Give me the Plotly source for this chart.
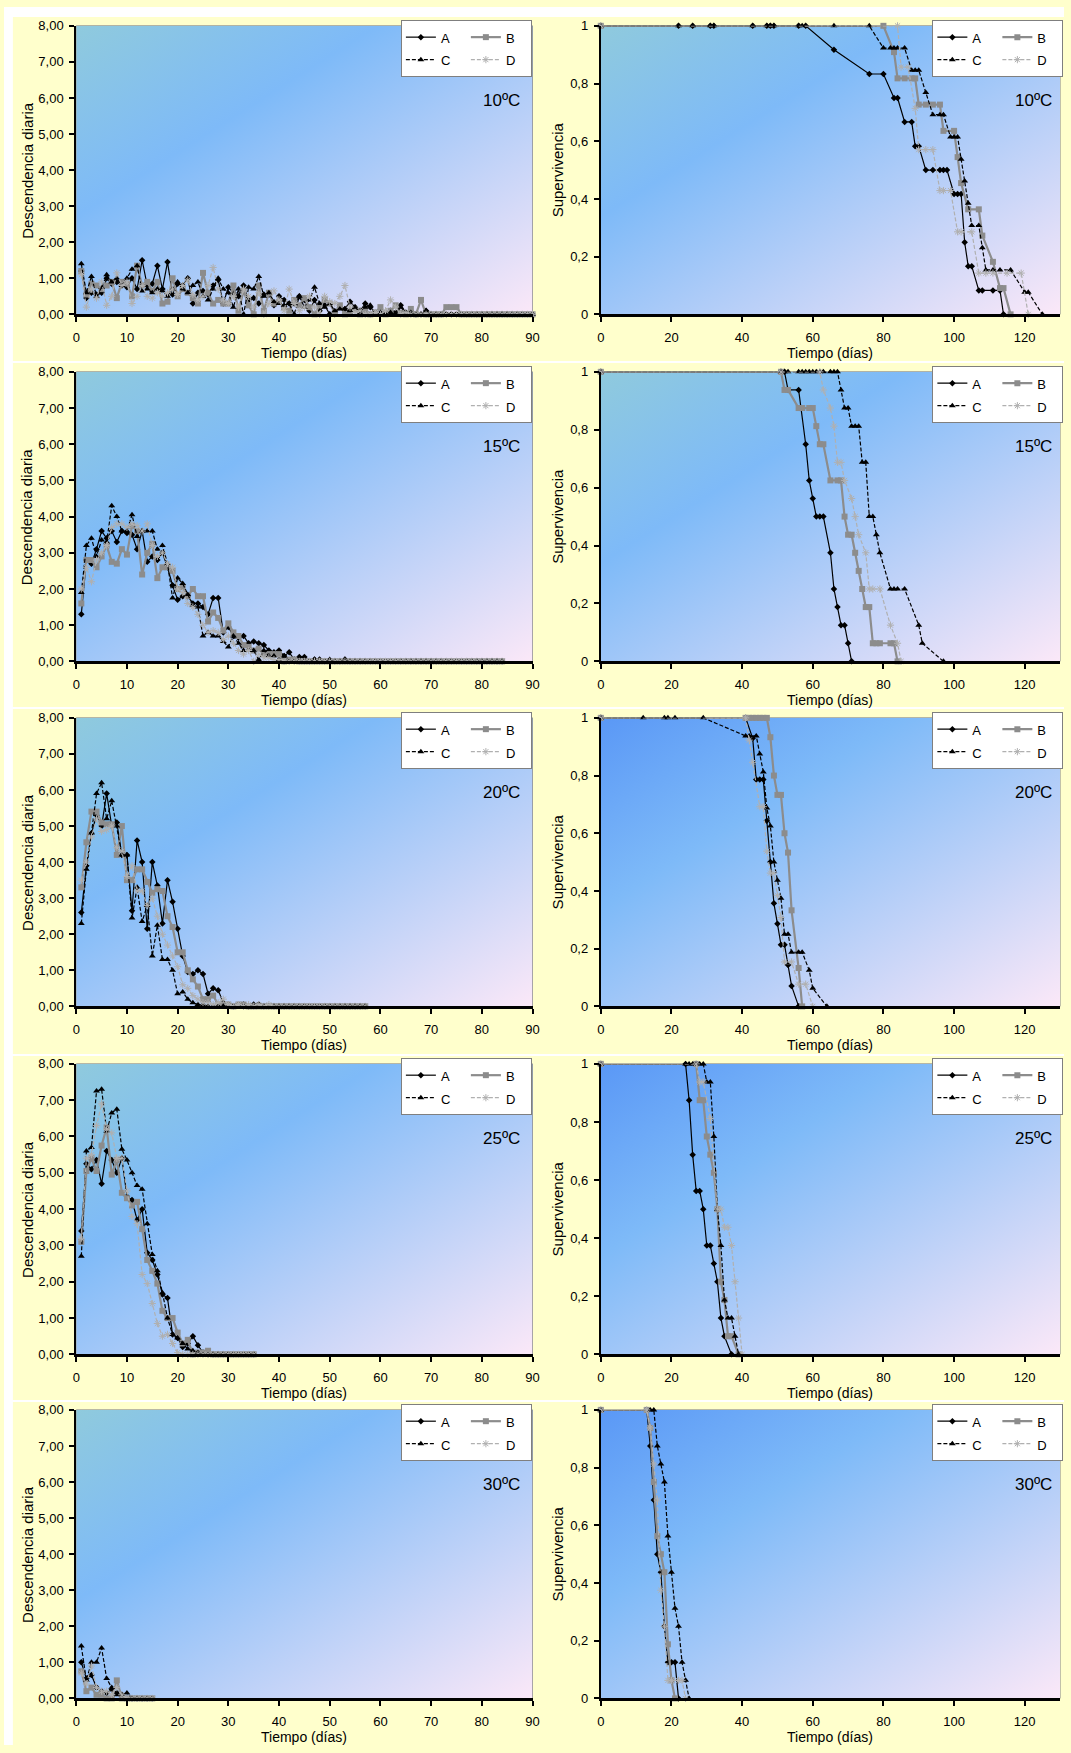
import base64
import plotly.graph_objects as go

W, H = 1071, 1753
FONT = "Liberation Sans, Arial, sans-serif"

TEMPERATURAS = ["10ºC", "15ºC", "20ºC", "25ºC", "30ºC"]
SERIES = ["A", "B", "C", "D"]

# ---------------- Descendencia diaria (day 1..n) ----------------
DESC_10_A = [1.20, 0.45, 0.60, 0.55, 0.60, 1.00, 0.85, 0.90, 0.80, 0.75,
             1.00, 0.70, 1.50, 0.80, 0.85, 1.35, 0.70, 1.45, 0.55, 0.85,
             0.80, 1.00, 0.30, 0.60, 0.65, 0.55, 0.80, 0.95, 0.30, 0.75,
             0.60, 0.50, 0.80, 0.40, 0.45, 0.30, 0.55, 0.55, 0.25, 0.50,
             0.40, 0.30, 0.30, 0.50, 0.40, 0.10, 0.40, 0.10, 0.25, 0.00,
             0.00, 0.20, 0.15, 0.35, 0.20, 0.10, 0.30, 0.20, 0.05, 0.00,
             0.05, 0.10, 0.05, 0.25, 0.05, 0.10, 0.00, 0.00, 0.10, 0.00,
             0, 0, 0, 0, 0, 0, 0, 0, 0, 0,
             0, 0, 0, 0, 0, 0, 0, 0, 0, 0]
DESC_10_B = [1.20, 0.55, 0.85, 0.80, 0.70, 0.80, 0.90, 0.45, 0.90, 0.85,
             0.50, 1.35, 0.80, 0.90, 0.65, 0.90, 0.30, 0.35, 1.00, 0.50,
             0.70, 0.60, 0.45, 0.30, 1.15, 0.60, 0.30, 0.40, 0.30, 0.30,
             0.80, 0.10, 0.65, 0.25, 0.00, 0.80, 0.10, 0.60, 0.30, 0.35,
             0.20, 0.10, 0.40, 0.25, 0.45, 0.20, 0.00, 0.25, 0.40, 0.30,
             0.05, 0.25, 0.00, 0.05, 0.15, 0.00, 0.10, 0.00, 0.05, 0.20,
             0.00, 0.10, 0.25, 0.05, 0.00, 0.15, 0.00, 0.40, 0.00, 0.00,
             0.00, 0.00, 0.20, 0.20, 0.20, 0, 0, 0, 0, 0,
             0, 0, 0, 0, 0, 0, 0, 0, 0, 0]
DESC_10_C = [1.40, 0.60, 1.05, 0.50, 0.75, 1.10, 0.90, 1.00, 0.80, 1.00,
             1.25, 1.35, 0.65, 0.70, 0.60, 0.70, 0.65, 0.50, 0.70, 0.90,
             0.70, 0.60, 0.80, 0.90, 0.50, 0.40, 0.70, 1.00, 0.70, 0.60,
             0.20, 0.70, 0.00, 0.75, 0.70, 1.05, 0.50, 0.60, 0.35, 0.30,
             0.25, 0.30, 0.00, 0.50, 0.20, 0.40, 0.75, 0.30, 0.20, 0.30,
             0.10, 0.15, 0.15, 0.10, 0.20, 0.05, 0.20, 0.25, 0.00, 0.05,
             0.00, 0.05, 0.00, 0.20, 0.05, 0.05, 0.00, 0.00, 0.10, 0.00,
             0, 0, 0, 0, 0, 0, 0, 0, 0, 0,
             0, 0, 0, 0, 0, 0, 0, 0, 0, 0]
DESC_10_D = [1.10, 0.20, 0.70, 0.45, 0.90, 0.25, 0.50, 1.15, 0.80, 0.90,
             0.30, 0.50, 0.80, 0.50, 0.45, 0.60, 0.50, 0.60, 0.70, 0.55,
             0.80, 0.95, 0.55, 0.40, 0.50, 0.80, 1.30, 0.70, 0.40, 0.30,
             0.50, 0.20, 0.70, 0.50, 0.20, 0.60, 0.00, 0.30, 0.65, 0.40,
             0.10, 0.70, 0.30, 0.10, 0.20, 0.50, 0.20, 0.00, 0.50, 0.35,
             0.30, 0.50, 0.80, 0.20, 0.05, 0.10, 0.00, 0.00, 0.05, 0.00,
             0.10, 0.40, 0.20, 0.00, 0.05, 0.00, 0.00, 0.00, 0.00, 0.00,
             0, 0, 0, 0, 0, 0, 0, 0, 0, 0,
             0, 0, 0, 0, 0, 0, 0, 0, 0, 0]

DESC_15_A = [1.30, 2.80, 2.70, 3.10, 3.60, 3.40, 3.60, 3.30, 3.60, 3.55,
             3.50, 3.10, 3.60, 2.75, 2.90, 2.80, 3.00, 2.60, 2.10, 1.70,
             1.80, 1.80, 1.60, 1.60, 1.50, 1.30, 1.75, 1.75, 0.80, 0.95,
             0.70, 0.65, 0.70, 0.50, 0.55, 0.50, 0.45, 0.30, 0.25, 0.30,
             0.15, 0.25, 0.05, 0.12, 0.12, 0.00, 0.05, 0.05, 0.00, 0.00,
             0.00, 0.00, 0.05, 0.00, 0, 0, 0, 0, 0, 0,
             0, 0, 0, 0, 0, 0, 0, 0, 0, 0,
             0, 0, 0, 0, 0, 0, 0, 0, 0, 0,
             0, 0, 0, 0]
DESC_15_B = [1.60, 2.80, 2.80, 2.60, 2.90, 3.20, 2.75, 2.70, 3.10, 2.95,
             3.75, 3.60, 2.40, 3.00, 3.25, 2.30, 2.60, 2.60, 2.50, 2.00,
             2.05, 1.80, 2.00, 1.80, 1.80, 1.10, 1.35, 1.20, 0.85, 1.05,
             0.80, 0.70, 0.45, 0.40, 0.30, 0.35, 0.20, 0.20, 0.20, 0.20,
             0.00, 0.05, 0.05, 0.00, 0, 0, 0, 0, 0, 0,
             0, 0, 0, 0, 0, 0, 0, 0, 0, 0,
             0, 0, 0, 0, 0, 0, 0, 0, 0, 0,
             0, 0, 0, 0, 0, 0, 0, 0, 0, 0,
             0, 0, 0, 0]
DESC_15_C = [1.90, 3.20, 3.40, 2.90, 3.35, 3.30, 4.30, 4.00, 3.60, 3.60,
             4.05, 3.45, 3.60, 3.60, 3.60, 3.10, 3.20, 2.70, 1.75, 2.30,
             2.15, 1.85, 1.55, 1.50, 0.70, 0.80, 0.70, 0.70, 0.55, 0.40,
             0.70, 0.50, 0.30, 0.30, 0.30, 0.05, 0.30, 0.15, 0.15, 0.05,
             0.15, 0.00, 0.00, 0.00, 0.00, 0.00, 0.05, 0.00, 0.00, 0.05,
             0.00, 0.00, 0.05, 0.00, 0, 0, 0, 0, 0, 0,
             0, 0, 0, 0, 0, 0, 0, 0, 0, 0,
             0, 0, 0, 0, 0, 0, 0, 0, 0, 0,
             0, 0, 0, 0]
DESC_15_D = [2.00, 2.60, 2.20, 2.80, 3.00, 3.20, 3.70, 3.80, 3.80, 3.70,
             3.80, 3.75, 3.60, 3.80, 3.20, 2.90, 3.00, 2.70, 2.60, 2.00,
             1.90, 1.60, 1.50, 1.30, 1.00, 0.80, 0.85, 0.80, 0.60, 0.70,
             0.50, 0.30, 0.20, 0.30, 0.00, 0.20, 0.10, 0.10, 0.05, 0.05,
             0, 0, 0, 0, 0, 0, 0, 0, 0, 0,
             0, 0, 0, 0, 0, 0, 0, 0, 0, 0,
             0, 0, 0, 0, 0, 0, 0, 0, 0, 0,
             0, 0, 0, 0, 0, 0, 0, 0, 0, 0,
             0, 0, 0, 0]

DESC_20_A = [2.60, 3.90, 4.80, 5.30, 5.00, 5.90, 5.00, 5.10, 4.20, 4.20,
             2.65, 4.60, 4.00, 2.15, 4.00, 3.35, 2.30, 3.50, 2.90, 2.15,
             1.40, 0.95, 0.90, 1.00, 0.90, 0.35, 0.50, 0.45, 0.10, 0.05,
             0.00, 0.05, 0.05, 0.00, 0.05, 0.05, 0.00, 0, 0, 0,
             0, 0, 0, 0, 0, 0, 0, 0, 0, 0,
             0, 0, 0, 0, 0, 0, 0]
DESC_20_B = [3.30, 4.55, 5.40, 5.40, 5.10, 5.05, 5.05, 4.20, 5.00, 3.50,
             3.50, 3.80, 3.80, 3.45, 3.15, 3.25, 3.20, 2.50, 2.20, 1.50,
             1.50, 1.00, 0.75, 0.55, 0.20, 0.20, 0.30, 0.05, 0.05, 0.05,
             0.00, 0.05, 0.05, 0.00, 0, 0, 0, 0, 0, 0,
             0, 0, 0, 0, 0, 0, 0, 0, 0, 0,
             0, 0, 0, 0, 0, 0, 0]
DESC_20_C = [2.30, 3.80, 4.80, 5.90, 6.20, 5.20, 5.70, 5.00, 4.20, 4.20,
             2.45, 3.30, 2.35, 2.80, 1.40, 2.25, 1.30, 1.30, 1.00, 0.35,
             0.40, 0.20, 0.10, 0.05, 0.05, 0.00, 0, 0, 0, 0,
             0, 0, 0, 0, 0, 0, 0, 0, 0, 0,
             0, 0, 0, 0, 0, 0, 0, 0, 0, 0,
             0, 0, 0, 0, 0, 0, 0]
DESC_20_D = [3.50, 4.00, 4.70, 5.20, 4.85, 4.90, 5.00, 4.40, 4.30, 3.60,
             3.90, 3.20, 3.20, 2.80, 3.00, 2.50, 2.00, 1.70, 1.40, 1.10,
             0.60, 0.50, 0.30, 0.20, 0.10, 0.10, 0.05, 0.10, 0.20, 0.05,
             0.00, 0.05, 0.00, 0.05, 0.00, 0.05, 0.00, 0.05, 0, 0,
             0, 0, 0, 0, 0, 0, 0, 0, 0, 0,
             0, 0, 0, 0, 0, 0, 0]

DESC_25_A = [3.40, 5.25, 5.10, 5.35, 4.70, 5.60, 5.35, 5.00, 5.40, 4.35,
             4.25, 3.70, 4.00, 2.80, 2.60, 2.20, 1.65, 1.55, 0.55, 0.45,
             0.20, 0.30, 0.50, 0.25, 0.05, 0.00, 0, 0, 0, 0,
             0, 0, 0, 0, 0]
DESC_25_B = [3.10, 5.05, 5.40, 5.05, 5.75, 6.25, 4.95, 5.35, 4.45, 4.30,
             4.10, 4.20, 3.45, 2.60, 2.30, 1.95, 1.20, 1.00, 1.00, 0.60,
             0.30, 0.40, 0.00, 0.05, 0.05, 0.10, 0, 0, 0, 0,
             0, 0, 0, 0, 0]
DESC_25_C = [2.70, 5.60, 5.70, 7.25, 7.30, 6.15, 6.65, 6.75, 5.65, 5.35,
             5.00, 4.65, 4.55, 3.60, 2.75, 2.30, 1.70, 1.00, 0.55, 0.45,
             0.30, 0.15, 0.10, 0.05, 0.00, 0, 0, 0, 0, 0,
             0, 0, 0, 0, 0]
DESC_25_D = [3.20, 5.40, 5.50, 6.30, 6.90, 6.20, 6.10, 5.40, 5.40, 4.50,
             3.80, 3.60, 2.20, 1.95, 1.40, 0.85, 0.50, 0.55, 0.30, 0.05,
             0.00, 0, 0, 0, 0, 0, 0, 0, 0, 0,
             0, 0, 0, 0, 0]

DESC_30_A = [1.00, 0.55, 0.65, 0.30, 0.20, 0.15, 0.25, 0.15, 0.10, 0.00, 0, 0, 0, 0, 0]
DESC_30_B = [0.75, 0.20, 0.30, 0.10, 0.10, 0.00, 0.00, 0.50, 0.00, 0.00, 0, 0, 0, 0, 0]
DESC_30_C = [1.45, 0.50, 1.00, 1.00, 1.40, 0.55, 0.30, 0.10, 0.10, 0.15, 0, 0, 0, 0, 0]
DESC_30_D = [0.70, 0.40, 0.90, 0.30, 0.20, 0.20, 0.10, 0.30, 0.10, 0.00, 0, 0, 0, 0, 0]

# ---------------- Supervivencia (day, survival) ----------------
SUP_10_A_X = [0, 22, 26, 31, 32, 43, 47, 48, 49, 56, 58, 66, 76, 80, 83, 84, 86, 88, 89, 90,
              92, 94, 96, 97, 98, 100, 101, 102, 103, 104, 105, 107, 108, 111, 113, 114]
SUP_10_A_Y = [1, 1, 1, 1, 1, 1, 1, 1, 1, 1, 1, 0.917, 0.833, 0.833, 0.75, 0.75, 0.667, 0.667, 0.583, 0.583,
              0.5, 0.5, 0.5, 0.5, 0.5, 0.417, 0.417, 0.417, 0.25, 0.167, 0.167, 0.083, 0.083, 0.083, 0.083, 0]
SUP_10_B_X = [0, 80, 83, 84, 86, 88, 89, 90, 92, 94, 96, 97, 100, 101, 102, 104, 107, 108, 111, 113, 114, 116]
SUP_10_B_Y = [1, 1, 0.909, 0.818, 0.818, 0.818, 0.818, 0.727, 0.727, 0.727, 0.727, 0.636, 0.636, 0.545,
              0.455, 0.364, 0.364, 0.273, 0.182, 0.091, 0.091, 0]
SUP_10_C_X = [0, 22, 26, 31, 32, 43, 47, 48, 49, 56, 57, 66, 76, 80, 82, 83, 84, 86, 88, 89, 90, 92,
              94, 96, 97, 99, 100, 101, 102, 103, 104, 105, 107, 108, 109, 111, 113, 116, 120, 121, 125]
SUP_10_C_Y = [1, 1, 1, 1, 1, 1, 1, 1, 1, 1, 1, 1, 1, 0.923, 0.923, 0.923, 0.923, 0.923, 0.846, 0.846, 0.846,
              0.769, 0.692, 0.692, 0.692, 0.615, 0.615, 0.615, 0.538, 0.462, 0.385, 0.308, 0.308, 0.231,
              0.154, 0.154, 0.154, 0.154, 0.077, 0.077, 0]
SUP_10_D_X = [0, 84, 85, 87, 89, 90, 92, 94, 96, 97, 99, 101, 102, 105, 107, 109, 111, 115, 119, 121]
SUP_10_D_Y = [1, 1, 0.857, 0.857, 0.714, 0.571, 0.571, 0.571, 0.429, 0.429, 0.429, 0.286, 0.286, 0.286,
              0.143, 0.143, 0.143, 0.143, 0.143, 0]

SUP_15_A_X = [0, 51, 52, 53, 56, 58, 59, 60, 61, 62, 63, 65, 66, 67, 68, 69, 70, 71]
SUP_15_A_Y = [1, 1, 1, 0.9375, 0.9375, 0.75, 0.625, 0.5625, 0.5, 0.5, 0.5, 0.375, 0.25, 0.1875, 0.125,
              0.125, 0.0625, 0]
SUP_15_B_X = [0, 51, 52, 53, 56, 57, 59, 60, 61, 62, 63, 65, 67, 68, 69, 70, 71, 72, 73, 74, 75, 76,
              77, 78, 79, 82, 83, 84]
SUP_15_B_Y = [1, 1, 0.9375, 0.9375, 0.875, 0.875, 0.875, 0.875, 0.8125, 0.75, 0.75, 0.625, 0.625, 0.625,
              0.5, 0.4375, 0.4375, 0.375, 0.3125, 0.25, 0.1875, 0.1875, 0.0625, 0.0625, 0.0625, 0.0625,
              0.0625, 0]
SUP_15_C_X = [0, 51, 52, 53, 56, 57, 58, 59, 60, 61, 62, 63, 65, 66, 67, 68, 69, 70, 71, 72, 73, 74,
              75, 76, 77, 78, 79, 82, 83, 84, 86, 90, 91, 97]
SUP_15_C_Y = [1, 1, 1, 1, 1, 1, 1, 1, 1, 1, 1, 1, 1, 1, 1, 0.9375, 0.875, 0.875, 0.8125, 0.8125, 0.8125,
              0.6875, 0.6875, 0.5, 0.5, 0.4375, 0.375, 0.25, 0.25, 0.25, 0.25, 0.125, 0.0625, 0]
SUP_15_D_X = [0, 51, 62, 63, 65, 66, 67, 68, 69, 71, 72, 73, 75, 76, 77, 79, 82, 84, 85]
SUP_15_D_Y = [1, 1, 1, 0.9375, 0.875, 0.8125, 0.6875, 0.6875, 0.625, 0.5625, 0.5, 0.4375, 0.375, 0.25,
              0.25, 0.25, 0.125, 0.0625, 0]

SUP_20_A_X = [0, 41, 43, 44, 45, 46, 47, 48, 49, 50, 51, 52, 53, 54, 56]
SUP_20_A_Y = [1, 1, 0.929, 0.786, 0.786, 0.786, 0.643, 0.5, 0.357, 0.286, 0.214, 0.214, 0.143, 0.071, 0]
SUP_20_B_X = [0, 41, 42, 43, 44, 45, 46, 47, 48, 49, 50, 51, 52, 53, 54, 56, 57]
SUP_20_B_Y = [1, 1, 1, 1, 1, 1, 1, 1, 0.933, 0.8, 0.733, 0.733, 0.6, 0.533, 0.333, 0.133, 0]
SUP_20_C_X = [0, 12, 18, 19, 21, 29, 41, 42, 44, 45, 46, 47, 48, 49, 50, 51, 52, 53, 54, 56, 57, 59, 60, 64]
SUP_20_C_Y = [1, 1, 1, 1, 1, 1, 0.9375, 0.9375, 0.9375, 0.875, 0.8125, 0.6875, 0.625, 0.5, 0.4375, 0.375,
              0.25, 0.25, 0.1875, 0.1875, 0.1875, 0.125, 0.0625, 0]
SUP_20_D_X = [0, 41, 42, 43, 45, 46, 47, 48, 49, 50, 51, 52, 54, 56, 58, 60]
SUP_20_D_Y = [1, 1, 0.923, 0.846, 0.692, 0.692, 0.538, 0.462, 0.462, 0.385, 0.308, 0.154, 0.154, 0.077,
              0.077, 0]

SUP_25_A_X = [0, 24, 25, 26, 27, 28, 29, 30, 31, 32, 33, 34, 35, 37]
SUP_25_A_Y = [1, 1, 0.875, 0.6875, 0.5625, 0.5625, 0.5, 0.375, 0.375, 0.3125, 0.25, 0.125, 0.0625, 0]
SUP_25_B_X = [0, 27, 28, 29, 30, 31, 32, 33, 34, 35, 36, 37, 39]
SUP_25_B_Y = [1, 1, 0.875, 0.875, 0.75, 0.6875, 0.625, 0.5, 0.25, 0.1875, 0.0625, 0.0625, 0]
SUP_25_C_X = [0, 24, 25, 26, 27, 28, 29, 30, 31, 32, 33, 34, 35, 36, 37, 38, 39]
SUP_25_C_Y = [1, 1, 1, 1, 1, 1, 1, 0.9375, 0.9375, 0.75, 0.5, 0.375, 0.1875, 0.125, 0.125, 0.0625, 0]
SUP_25_D_X = [0, 27, 28, 29, 31, 33, 34, 35, 36, 37, 38, 39, 40]
SUP_25_D_Y = [1, 1, 0.9375, 0.9375, 0.8125, 0.5, 0.5, 0.4375, 0.4375, 0.375, 0.25, 0.125, 0]

SUP_30_A_X = [0, 13, 14, 15, 16, 17, 18, 19, 20, 21, 22]
SUP_30_A_Y = [1, 1, 0.875, 0.6875, 0.5, 0.4375, 0.25, 0.125, 0.125, 0.125, 0]
SUP_30_B_X = [0, 13, 14, 15, 16, 17, 18, 19, 20, 21]
SUP_30_B_Y = [1, 1, 0.9375, 0.75, 0.5625, 0.5, 0.4375, 0.1875, 0.0625, 0]
SUP_30_C_X = [0, 14, 15, 16, 17, 18, 19, 20, 21, 22, 23, 24, 25]
SUP_30_C_Y = [1, 1, 1, 0.875, 0.8125, 0.75, 0.5625, 0.4375, 0.3125, 0.25, 0.125, 0.0625, 0]
SUP_30_D_X = [0, 13, 14, 15, 16, 17, 18, 19, 20, 22, 23, 24]
SUP_30_D_Y = [1, 1, 0.9375, 0.8125, 0.6875, 0.375, 0.25, 0.0625, 0.0625, 0.0625, 0.0625, 0]

DESC = {
    "10ºC": {"A": DESC_10_A, "B": DESC_10_B, "C": DESC_10_C, "D": DESC_10_D},
    "15ºC": {"A": DESC_15_A, "B": DESC_15_B, "C": DESC_15_C, "D": DESC_15_D},
    "20ºC": {"A": DESC_20_A, "B": DESC_20_B, "C": DESC_20_C, "D": DESC_20_D},
    "25ºC": {"A": DESC_25_A, "B": DESC_25_B, "C": DESC_25_C, "D": DESC_25_D},
    "30ºC": {"A": DESC_30_A, "B": DESC_30_B, "C": DESC_30_C, "D": DESC_30_D},
}
SUPV = {
    "10ºC": {"A": (SUP_10_A_X, SUP_10_A_Y), "B": (SUP_10_B_X, SUP_10_B_Y),
             "C": (SUP_10_C_X, SUP_10_C_Y), "D": (SUP_10_D_X, SUP_10_D_Y)},
    "15ºC": {"A": (SUP_15_A_X, SUP_15_A_Y), "B": (SUP_15_B_X, SUP_15_B_Y),
             "C": (SUP_15_C_X, SUP_15_C_Y), "D": (SUP_15_D_X, SUP_15_D_Y)},
    "20ºC": {"A": (SUP_20_A_X, SUP_20_A_Y), "B": (SUP_20_B_X, SUP_20_B_Y),
             "C": (SUP_20_C_X, SUP_20_C_Y), "D": (SUP_20_D_X, SUP_20_D_Y)},
    "25ºC": {"A": (SUP_25_A_X, SUP_25_A_Y), "B": (SUP_25_B_X, SUP_25_B_Y),
             "C": (SUP_25_C_X, SUP_25_C_Y), "D": (SUP_25_D_X, SUP_25_D_Y)},
    "30ºC": {"A": (SUP_30_A_X, SUP_30_A_Y), "B": (SUP_30_B_X, SUP_30_B_Y),
             "C": (SUP_30_C_X, SUP_30_C_Y), "D": (SUP_30_D_X, SUP_30_D_Y)},
}

# ---------------- styles ----------------
STYLE = {
    "A": dict(line=dict(color="#000000", width=1.2),
              marker=dict(symbol="diamond", size=5, color="#000000")),
    "B": dict(line=dict(color="#8C8C8C", width=2.2),
              marker=dict(symbol="square", size=6, color="#8C8C8C")),
    "C": dict(line=dict(color="#000000", width=1.2, dash="4px,2px"),
              marker=dict(symbol="triangle-up", size=6, color="#000000")),
    "D": dict(line=dict(color="#B0B0B0", width=1.2, dash="4px,2px"),
              marker=dict(symbol="asterisk-open", size=6, color="#B0B0B0",
                          line=dict(width=1, color="#B0B0B0"))),
}
GROUP = {"A": "g1", "C": "g1", "B": "g2", "D": "g2"}

ROW_TOP = [19, 368, 717, 1066, 1415]
ROW_BOT = [310, 660, 1008, 1359, 1706]
COL_X = [(73, 534), (603, 1067)]
LEG_LEFT = [401, 938]
TEMP_RIGHT = [523, 1061]
YTITLE_X = [23, 559]


def px(v):
    return v / W


def py(v):
    return 1 - v / H


def grad_uri(c0, c1, c2):
    svg = ('<svg xmlns="http://www.w3.org/2000/svg" width="200" height="200" viewBox="0 0 200 200" '
           'preserveAspectRatio="none"><defs><linearGradient id="g" x1="0" y1="0" x2="1" y2="1">'
           f'<stop offset="0" stop-color="{c0}"/><stop offset="0.33" stop-color="{c1}"/>'
           f'<stop offset="1" stop-color="{c2}"/></linearGradient></defs>'
           '<rect width="200" height="200" fill="url(#g)"/></svg>')
    return "data:image/svg+xml;base64," + base64.b64encode(svg.encode()).decode()


GRAD_TEAL = grad_uri("#8FCADD", "#7EBAF8", "#FBE8F8")
GRAD_BLUE = grad_uri("#5A98F6", "#7EBAF8", "#FBE8F8")

fig = go.Figure()
layout = dict(margin=dict(l=0, r=0, t=0, b=0, pad=0),
              paper_bgcolor="#FFFFCC", plot_bgcolor="rgba(0,0,0,0)",
              font=dict(family=FONT, size=13, color="#000000"),
              separators=",.", hovermode="closest")
images, shapes, annotations = [], [], []

for r, temp in enumerate(TEMPERATURAS):
    for c in range(2):
        k = r * 2 + c + 1
        sfx = "" if k == 1 else str(k)
        xref, yref = "x" + sfx, "y" + sfx
        legname = "legend" + sfx
        x0, x1 = COL_X[c]
        top, bot = ROW_TOP[r], ROW_BOT[r]

        for s in SERIES:
            if c == 0:
                yv = DESC[temp][s]
                xv = list(range(1, len(yv) + 1))
            else:
                xv, yv = SUPV[temp][s]
            fig.add_trace(go.Scatter(
                x=xv, y=yv, mode="lines+markers", name=f"<span style='font-size:13px'>{s}</span>",
                line=STYLE[s]["line"], marker=STYLE[s]["marker"], cliponaxis=False,
                xaxis=xref, yaxis=yref, legend=legname, legendgroup=f"p{k}{GROUP[s]}",
                showlegend=True))

        axcommon = dict(showline=True, linecolor="#000000", linewidth=2.5, ticks="outside",
                        ticklen=5, tickwidth=1.5, tickcolor="#000000", showgrid=False,
                        zeroline=False, tickfont=dict(family=FONT, size=13, color="#000000"),
                        fixedrange=True)
        if c == 0:
            xax = dict(range=[0, 90], tick0=0, dtick=10, **axcommon)
            yax = dict(range=[0, 8], tick0=0, dtick=1, tickformat=".2f", **axcommon)
        else:
            xax = dict(range=[0, 130], tick0=0, dtick=20, **axcommon)
            yax = dict(range=[0, 1], tick0=0, dtick=0.2, **axcommon)
        xax.update(domain=[px(x0), px(x1)], anchor=yref, ticklabelstandoff=4)
        yax.update(domain=[py(bot), py(top)], anchor=xref, ticklabelstandoff=3)
        yax["linewidth"] = 2
        layout["xaxis" + sfx] = xax
        layout["yaxis" + sfx] = yax

        images.append(dict(source=GRAD_BLUE if (c == 1 and r >= 2) else GRAD_TEAL,
                           xref=xref + " domain", yref=yref + " domain", x=0, y=1,
                           sizex=1, sizey=1, sizing="stretch", xanchor="left", yanchor="top",
                           layer="below"))
        shapes.append(dict(type="rect", xref=xref + " domain", yref=yref + " domain",
                           x0=0, x1=1, y0=0, y1=1, line=dict(color="#8C8C8C", width=1),
                           layer="below"))

        layout[legname] = dict(x=px(LEG_LEFT[c]), y=py(top - 6), xanchor="left", yanchor="top",
                               orientation="h", traceorder="grouped", bgcolor="#FFFFFF",
                               bordercolor="#7F7F7F", borderwidth=1, entrywidth=20,
                               itemwidth=30, tracegroupgap=0,
                               font=dict(family=FONT, size=15, color="#000000"))

        annotations.append(dict(text=temp, xref="paper", yref="paper",
                                x=px(TEMP_RIGHT[c]), y=py(top + 75),
                                xanchor="right", yanchor="middle", showarrow=False,
                                font=dict(family=FONT, size=17, color="#000000")))
        annotations.append(dict(text="Tiempo (días)", xref="paper", yref="paper",
                                x=px((x0 + x1) / 2), y=py(bot + 39), xanchor="center",
                                yanchor="middle", showarrow=False,
                                font=dict(family=FONT, size=14, color="#000000")))
        annotations.append(dict(text="Descendencia diaria" if c == 0 else "Supervivencia",
                                xref="paper", yref="paper", textangle=-90,
                                x=px(YTITLE_X[c]), y=py((top + bot) / 2),
                                xanchor="center", yanchor="middle", showarrow=False,
                                font=dict(family=FONT, size=15, color="#000000")))

# white frame strips and gaps between chart rows
for (a, b) in [(0, 10), (357, 359), (706, 708), (1056, 1058), (1405, 1407)]:
    shapes.append(dict(type="rect", xref="paper", yref="paper", x0=0, x1=1,
                       y0=py(b), y1=py(a), fillcolor="#FFFFFF", line=dict(width=0), layer="below"))
shapes.append(dict(type="rect", xref="paper", yref="paper", x0=0, x1=px(9), y0=0, y1=1,
                   fillcolor="#FFFFFF", line=dict(width=0), layer="below"))

layout["images"] = images
layout["shapes"] = shapes
layout["annotations"] = annotations
fig.update_layout(**layout)
fig.write_html("out.html",
               config={"displayModeBar": False, "responsive": False},
               default_width="100vw;position:fixed;left:0;top:0",
               default_height="100vh")
